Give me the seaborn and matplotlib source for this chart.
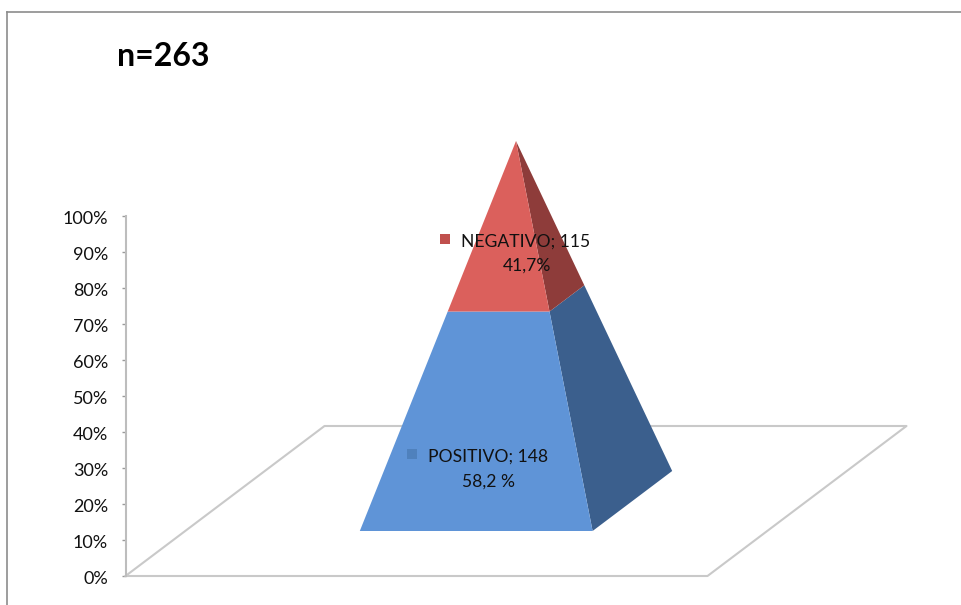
import matplotlib
matplotlib.use("Agg")
import matplotlib.pyplot as plt
from matplotlib.transforms import ScaledTranslation
import numpy as np
import seaborn as sns

# Data
categories = ["POSITIVO", "NEGATIVO"]
counts = [148, 115]
percent_labels = ["58,2 %", "41,7%"]
y_ticks = [0, 10, 20, 30, 40, 50, 60, 70, 80, 90, 100]
title_text = "n=263"

# Styles
front_colors = ["#5F94D7", "#DB605C"]
side_colors = ["#3B5F8D", "#8E3C3A"]
key_colors = ["#4F81BD", "#C0504D"]
grid_color = "#C9C9C9"
frame_color = "#8C8C8C"
text_color = "#111111"

sns.set_theme(style="white")
plt.rcParams["font.family"] = ["Lato", "DejaVu Sans"]

W, H = 961, 605
fig = plt.figure(figsize=(W / 100, H / 100), dpi=100, facecolor="white")

# Outer chart frame: only left and top edges are visible in the crop
frame = fig.add_axes([7 / W, 0, 1 - 7 / W, 1 - 12 / H])
frame.set_xticks([])
frame.set_yticks([])
frame.patch.set_visible(False)
sns.despine(ax=frame, top=False, right=True, left=False, bottom=True)
for side in ("left", "top"):
    frame.spines[side].set_color(frame_color)
    frame.spines[side].set_linewidth(1.2)

# Main axes: x in figure pixels, y in percent (0% at px 576, 100% at px 216)
PX_PER_PCT = 3.6
ax = fig.add_axes([0, 0, 1, 1])
ax.patch.set_visible(False)
ax.set_xlim(0, W)
ax.set_ylim((576 - H) / PX_PER_PCT, 576 / PX_PER_PCT)


def from_px(py):
    return (576 - py) / PX_PER_PCT


# Oblique 3D projection of the chart's floor and height axis
ORIGIN_X = 125.5
WIDTH_X = 582.0
DEPTH_X = 199.0
DEPTH_Y = 150.0 / PX_PER_PCT


def project(u, v, h):
    return ORIGIN_X + u * WIDTH_X + v * DEPTH_X, v * DEPTH_Y + h


# Floor
floor = [project(*p, 0) for p in [(0, 0), (0, 1), (1, 1), (1, 0), (0, 0)]]
sns.lineplot(x=[p[0] for p in floor], y=[p[1] for p in floor], sort=False,
             estimator=None, color=grid_color, linewidth=1.5, ax=ax, zorder=1)

# Pyramid stacked from the counts
BASE_LO, BASE_HI = 0.3, 0.7
apex = project(0.5, 0.5, 100)
fractions = np.concatenate([[0], np.cumsum(counts) / np.sum(counts)])


def along(corner, t):
    c = np.array(corner)
    return tuple(c + (np.array(apex) - c) * t)


corner_fl = project(BASE_LO, BASE_LO, 0)
corner_fr = project(BASE_HI, BASE_LO, 0)
corner_br = project(BASE_HI, BASE_HI, 0)

for i in range(len(counts)):
    t0, t1 = fractions[i], fractions[i + 1]
    side = [along(corner_fr, t0), along(corner_br, t0),
            along(corner_br, t1), along(corner_fr, t1)]
    front = [along(corner_fl, t0), along(corner_fr, t0),
             along(corner_fr, t1), along(corner_fl, t1)]
    ax.fill(*zip(*side), color=side_colors[i], lw=0, zorder=2)
    ax.fill(*zip(*front), color=front_colors[i], lw=0, zorder=3)

# Data labels with legend keys
key_x = [412, 445]
key_py = [454, 239]
name_x = [488.5, 526]
name_py = [457, 242]
pct_x = [489, 527]
pct_py = [482, 266]
sns.scatterplot(x=key_x, y=[from_px(p) for p in key_py], hue=categories,
                palette=dict(zip(categories, key_colors)), marker="s", s=62,
                linewidth=0, legend=False, ax=ax, zorder=4)
for i, cat in enumerate(categories):
    ax.text(name_x[i], from_px(name_py[i]), f"{cat}; {counts[i]}", ha="center",
            va="center", fontsize=12.6, color=text_color, zorder=5)
    ax.text(pct_x[i], from_px(pct_py[i]), percent_labels[i], ha="center",
            va="center", fontsize=12.6, color=text_color, zorder=5)

# Percent axis
sns.despine(ax=ax, top=True, right=True, bottom=True, left=False)
ax.spines["left"].set_position(("data", 126))
ax.spines["left"].set_bounds(0, 100)
ax.spines["left"].set_color("#BDBDBD")
ax.spines["left"].set_linewidth(1.5)
ax.set_xticks([])
ax.set_yticks(y_ticks)
ax.set_yticklabels([f"{t}%" for t in y_ticks])
ax.tick_params(axis="y", left=True, length=3, width=1, color="#9A9A9A", pad=10,
               labelsize=13, labelcolor=text_color)
shift = ScaledTranslation(0, -1.5 / 100, fig.dpi_scale_trans)
for label in ax.get_yticklabels():
    label.set_transform(label.get_transform() + shift)
ax.set_xlabel("")
ax.set_ylabel("")

# Title
ax.text(117, from_px(57), title_text, ha="left", va="center", fontsize=23,
        fontweight="bold", color="black")

fig.savefig("out.png", dpi=100, facecolor="white")
